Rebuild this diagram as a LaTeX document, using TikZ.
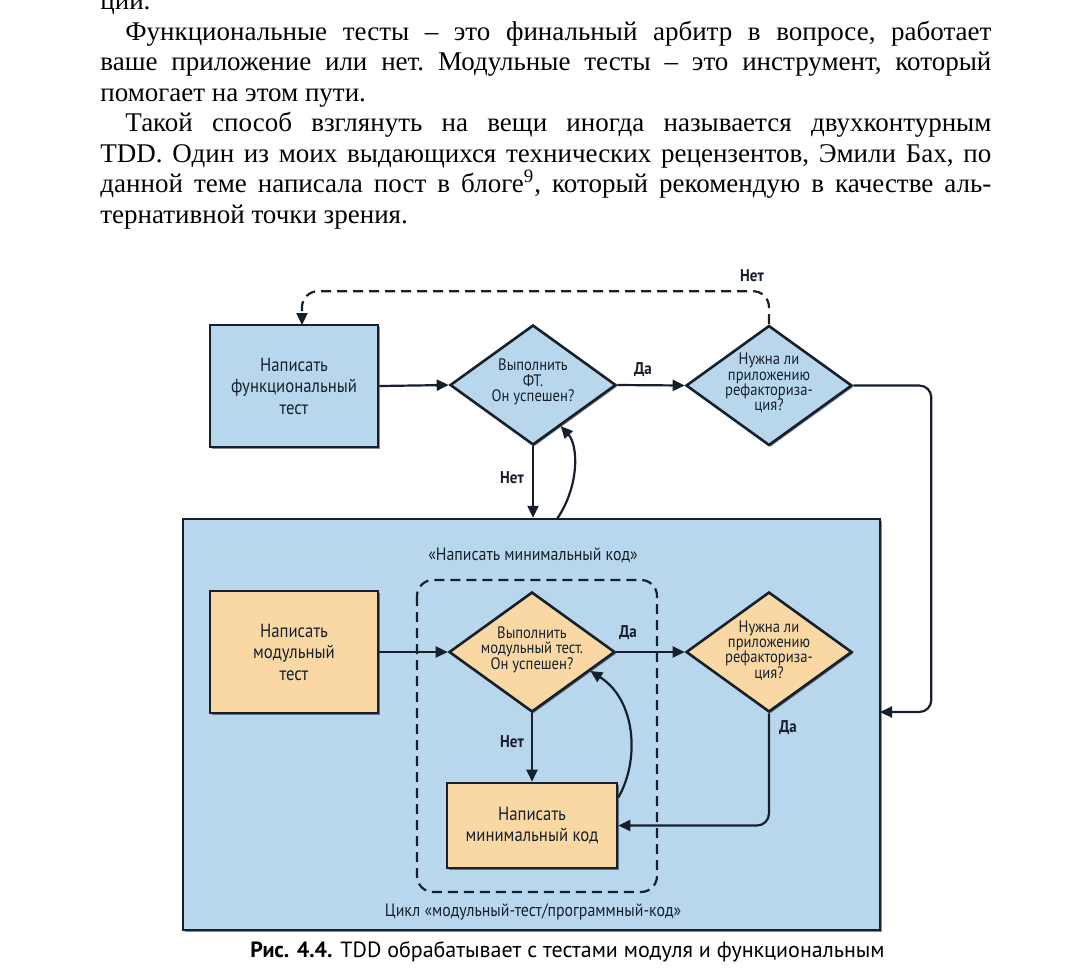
\documentclass[tikz,border=0pt]{standalone}
\usepackage{fontspec}
\setmainfont{Liberation Serif}
\newfontfamily\diafont[FakeStretch=0.88]{PT Sans}
\newfontfamily\capfont{PT Sans}
\usetikzlibrary{arrows.meta,shapes.geometric,shadows}
\definecolor{tddblue}{RGB}{185,215,236}
\definecolor{tddorange}{RGB}{250,216,163}
\definecolor{tddline}{RGB}{22,32,44}
\tikzset{
  shade/.style={drop shadow={shadow xshift=0.8pt, shadow yshift=-0.8pt, fill=black, opacity=0.45}},
  box/.style={draw=tddline, line width=1.3pt, minimum width=84pt, minimum height=61pt, inner sep=2pt,
    align=center, text=tddline, font=\diafont\fontsize{9.5}{10.75}\selectfont, shade},
  dia/.style={diamond, draw=tddline, line width=1.3pt, minimum width=83pt, minimum height=60pt,
    inner sep=0pt, shade},
  diatext/.style={align=center, text=tddline, inner sep=0pt, font=\diafont\fontsize{8.3}{7.7}\selectfont},
  lbl/.style={text=tddline, inner sep=0pt, font=\diafont\bfseries\fontsize{8.5}{10}\selectfont},
  title/.style={text=tddline, inner sep=0pt, font=\diafont\fontsize{9}{10}\selectfont},
  arr/.style={-{Triangle[length=6pt,width=5.5pt]}, line width=1.1pt, draw=tddline},
  dsh/.style={dash pattern=on 5pt off 3pt, line width=1.1pt, draw=tddline}
}
\begin{document}
\begin{tikzpicture}[x=0.5pt,y=-0.5pt]
  \fill[white] (0,0) rectangle (1080,970);
  \useasboundingbox (0,0) rectangle (1080,970);

  % text of the page
  \node[anchor=base west, inner sep=0pt] (para) at (100,9.5) {\parbox[t]{445.5pt}{%
    \fontsize{13.5}{15.25}\selectfont\frenchspacing\setlength{\parindent}{12.5pt}%
    \noindent ции.\par
    Функциональные тесты – это финальный арбитр в вопросе, работает\linebreak
    ваше приложение или нет. Модульные тесты – это инструмент, который\linebreak
    помогает на этом пути.\par
    Такой способ взглянуть на вещи иногда называется двухконтурным\linebreak
    TDD. Один из моих выдающихся технических рецензентов, Эмили Бах, по\linebreak
    данной теме написала пост в блоге\textsuperscript{9}, который рекомендую в качестве аль-\linebreak
    тернативной точки зрения.}};

  % outer loop
  \node[draw=tddline, line width=1.2pt, fill=tddblue, minimum width=348.5pt, minimum height=205.5pt, shade]
    (loop) at (531.5,724.5) {};
  \node[title] (mintitle) at (533,555) {«Написать минимальный код»};
  \node[title] (looptitle) at (533,912) {Цикл «модульный-тест/программный-код»};
  \draw[dsh, rounded corners=8pt] (417,580) rectangle (657,892);

  % functional test row
  \node[box, fill=tddblue] (b1) at (294,386) {Написать\\функциональный\\тест};
  \node[dia, fill=tddblue] (d1) at (533,385) {};
  \node[diatext] (d1t) at (533,382) {Выполнить\\ФТ.\\Он успешен?};
  \node[dia, fill=tddblue] (d2) at (769,385.5) {};
  \node[diatext] (d2t) at (769,383) {Нужна ли\\приложению\\рефакториза-\\ция?};

  % unit test row
  \node[box, fill=tddorange] (b3) at (294,652) {Написать\\модульный\\тест};
  \node[dia, fill=tddorange] (d3) at (532,652) {};
  \node[diatext] (d3t) at (532,649.5) {Выполнить\\модульный тест.\\Он успешен?};
  \node[dia, fill=tddorange] (d4) at (769,652) {};
  \node[diatext] (d4t) at (769,650.5) {Нужна ли\\приложению\\рефакториза-\\ция?};
  \node[box, fill=tddorange, minimum width=85pt, minimum height=42.5pt] (b5) at (532,825.5)
    {Написать\\минимальный код};

  % connectors
  \coordinate (topin) at (302,325);
  \coordinate (upA) at (557,519);
  \coordinate (inA) at (880,712);
  \draw[arr] (b1.east) -- (d1.west);
  \draw[arr] (d1.east) -- (d2.west);
  \draw[arr] (d1.south) -- (d1.south |- loop.north);
  \draw[arr] (upA) .. controls (580,485) and (578,445) .. (d1.-56);
  \draw[dsh, arr, rounded corners=8pt] (d2.north) -- ++(0,-33) -| (topin);
  \draw[arr, rounded corners=6pt] (d2.east) -- ++(78,0) |- (inA);
  \draw[arr] (b3.east) -- (d3.west);
  \draw[arr] (d3.east) -- (d4.west);
  \draw[arr] (d3.south) -- (b5.north);
  \draw[arr] (b5.18) .. controls (640,760) and (636,700) .. (d3.-18);
  \draw[arr, rounded corners=6pt] (d4.south) |- (b5.east);

  % labels
  \node[lbl] (no1) at (752,276) {Нет};
  \node[lbl] (yes1) at (643,370) {Да};
  \node[lbl] (no2) at (512,478) {Нет};
  \node[lbl] (yes2) at (628,633) {Да};
  \node[lbl] (no3) at (512,742) {Нет};
  \node[lbl] (yes3) at (788,728) {Да};

  % caption
  \node[anchor=base west, inner sep=0pt, font=\capfont\fontsize{11}{13}\selectfont] (cap) at (250,957)
    {\textbf{Рис. 4.4.} TDD обрабатывает с тестами модуля и функциональным};
\end{tikzpicture}
\end{document}
